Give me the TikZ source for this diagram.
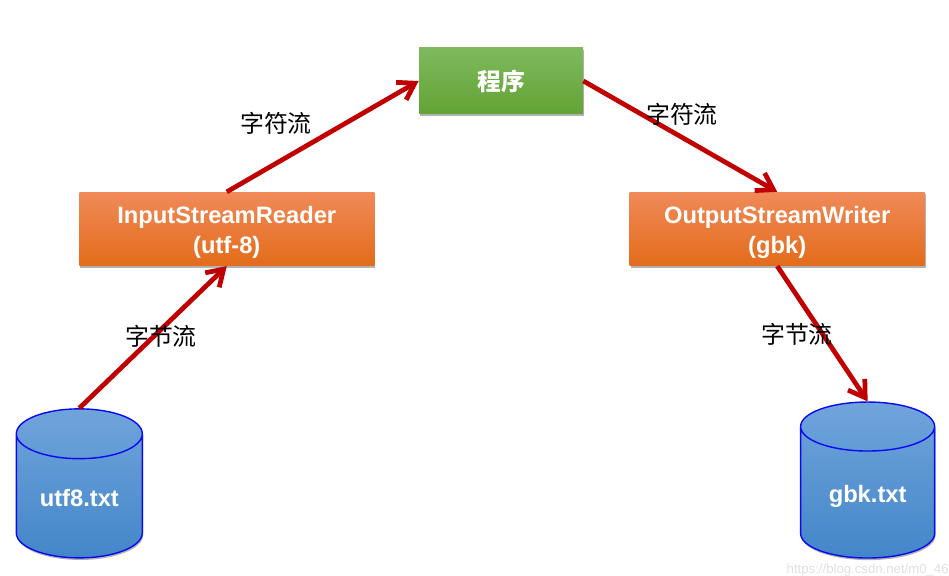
\documentclass[tikz,border=0pt]{standalone}
\usepackage{fontspec}
\setmainfont{Liberation Sans}
\newfontfamily\cjk{Noto Sans CJK SC}
\usepackage{xcolor}
\usetikzlibrary{arrows.meta,positioning,shadows,shapes.geometric}
\definecolor{arrowred}{HTML}{C00000}
\definecolor{filestroke}{HTML}{0A0AF0}
\definecolor{orangetop}{HTML}{F08A58}
\definecolor{orangemid}{HTML}{F47B2D}
\definecolor{orangelow}{HTML}{E36C1B}
\definecolor{greentop}{HTML}{7FB95E}
\definecolor{greenlow}{HTML}{62A335}
\definecolor{filetop}{HTML}{70A4DB}
\definecolor{filelow}{HTML}{4386C8}
\newcommand{\toprule}[1]{\rule{0pt}{#1}}

\begin{document}
\begin{tikzpicture}[>={Straight Barb[length=9pt,width=11.5pt,line width=2.7pt]},
    boxshadow/.style={drop shadow={shadow xshift=0.5pt,shadow yshift=-1.2pt,opacity=.3,fill=black}},
    orangebox/.style={rectangle,minimum width=5.9cm,minimum height=1.47cm,inner sep=0pt,align=center,
      text=white,font=\fontsize{13.5}{17}\selectfont\bfseries,
      top color=orangetop,middle color=orangemid,bottom color=orangelow,boxshadow},
    greenbox/.style={rectangle,minimum width=3.28cm,minimum height=1.32cm,inner sep=0pt,
      text=white,font=\fontsize{13.5}{16}\cjk\bfseries,
      top color=greentop,bottom color=greenlow,boxshadow},
    filecyl/.style={cylinder,shape border rotate=90,aspect=.63,inner sep=0pt,draw=filestroke,line width=.8pt,
      text=white,font=\fontsize{13.5}{16}\selectfont\bfseries,
      top color=filetop,bottom color=filelow,boxshadow},
    flowline/.style={->,arrowred,line width=2.7pt},
    flowlabel/.style={inner sep=0pt,font=\fontsize{13.6}{16}\cjk}]
  \useasboundingbox (0,0) rectangle (18.98,11.52);
  \node (prog) [greenbox] at (10.02,9.9) {程序};
  \node (reader) [orangebox,below left=1.55cm and 0.88cm of prog] {\toprule{13.3pt}InputStreamReader\\(utf-8)};
  \node (writer) [orangebox,below right=1.55cm and 0.92cm of prog] {\toprule{13.3pt}OutputStreamWriter\\(gbk)};
  \node (utf) [filecyl,minimum width=2.52cm,minimum height=2.98cm,below left=3.33cm and -1.28cm of reader] {\toprule{12.2pt}utf8.txt};
  \node (gbk) [filecyl,minimum width=2.68cm,minimum height=3.12cm,below right=3.18cm and -2.50cm of writer] {\toprule{14.5pt}gbk.txt};
  \draw[flowline] (utf.north) -- (reader.south);
  \draw[flowline] (reader.north) -- (prog.west);
  \draw[flowline] (prog.east) -- (writer.north);
  \draw[flowline] (writer.south) -- (gbk.north);
  \node (byteL) [flowlabel] at (3.22,4.8) {字节流};
  \node (charL) [flowlabel] at (5.52,9.06) {字符流};
  \node (charR) [flowlabel] at (13.64,9.24) {字符流};
  \node (byteR) [flowlabel] at (15.94,4.84) {字节流};
  \node (mark) [anchor=base east,inner sep=0pt,text=black!12,font=\fontsize{7.5}{9}\selectfont] at (18.98,0.04) {https://blog.csdn.net/m0\_46};
\end{tikzpicture}
\end{document}
